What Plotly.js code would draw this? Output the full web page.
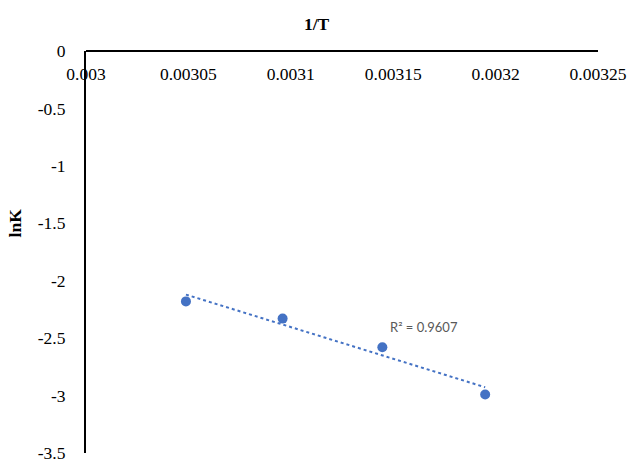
<!DOCTYPE html>
<html>
<head>
<meta charset="utf-8">
<script src="https://cdn.plot.ly/plotly-3.0.1.min.js"></script>
<style>html,body{margin:0;padding:0;background:#fff;}#chart{width:630px;height:461px;}</style>
</head>
<body>
<div id="chart"></div>
<script>
// Data
var invT = [0.0030488, 0.0030960, 0.0031447, 0.0031949];
var lnK = [-2.18, -2.33, -2.58, -2.99];
var xTicks = [0.003, 0.00305, 0.0031, 0.00315, 0.0032, 0.00325];
var xTickText = ['0.003', '0.00305', '0.0031', '0.00315', '0.0032', '0.00325'];
var yTicks = [0, -0.5, -1, -1.5, -2, -2.5, -3, -3.5];
var yTickText = ['0', '-0.5', '-1', '-1.5', '-2', '-2.5', '-3', '-3.5'];
var r2Label = 'R² = 0.9607';

// Linear trendline (least squares)
var n = invT.length, mx = 0, my = 0;
for (var i = 0; i < n; i++) { mx += invT[i]; my += lnK[i]; }
mx /= n; my /= n;
var sxy = 0, sxx = 0;
for (var i = 0; i < n; i++) { sxy += (invT[i]-mx)*(lnK[i]-my); sxx += (invT[i]-mx)*(invT[i]-mx); }
var slope = sxy/sxx, icpt = my - slope*mx;
var xMin = Math.min.apply(null, invT), xMax = Math.max.apply(null, invT);
var trendX = [xMin, xMax];
var trendY = trendX.map(function(x){ return slope*x + icpt; });

var color = '#4472C4';
var serif = 'Liberation Serif';

var data = [
  {x: trendX, y: trendY, mode: 'lines', line: {color: color, width: 2, dash: 'dot'}, hoverinfo: 'skip', showlegend: false},
  {x: invT, y: lnK, mode: 'markers', marker: {color: color, size: 10}, showlegend: false}
];

var layout = {
  width: 630, height: 461,
  margin: {l: 86, r: 32, t: 51, b: 8},
  paper_bgcolor: '#fff', plot_bgcolor: '#fff',
  showlegend: false,
  xaxis: {
    range: [0.003, 0.00325], side: 'bottom', anchor: 'free', position: 1,
    tickvals: xTicks, ticktext: xTickText,
    ticklabelstandoff: 7, ticklabeloverflow: 'allow',
    showgrid: false, zeroline: false,
    showline: true, linecolor: '#000', linewidth: 2,
    ticks: '', tickfont: {family: serif, size: 17.5, color: '#000'}
  },
  yaxis: {
    range: [-3.5, 0],
    tickvals: yTicks, ticktext: yTickText,
    showgrid: false, zeroline: false,
    showline: true, linecolor: '#000', linewidth: 2,
    ticks: '', ticklabelstandoff: 15, ticklabeloverflow: 'allow',
    tickfont: {family: serif, size: 17.5, color: '#000'}
  },
  annotations: [
    {text: '<b>1/T</b>', xref: 'paper', yref: 'paper', x: 0.451, y: 1, yshift: 27, showarrow: false,
     font: {family: serif, size: 17.5, color: '#000'}, xanchor: 'center', yanchor: 'middle'},
    {text: '<b>lnK</b>', xref: 'paper', yref: 'paper', x: 0, xshift: -71, y: 0.571, showarrow: false,
     textangle: -90, font: {family: serif, size: 17.5, color: '#000'}, xanchor: 'center', yanchor: 'middle'},
    {text: r2Label, xref: 'x', yref: 'y', x: 0.003165, y: -2.405, showarrow: false,
     font: {family: 'Lato', size: 13, color: '#595959'}, xanchor: 'center', yanchor: 'middle'}
  ]
};

Plotly.newPlot('chart', data, layout, {displayModeBar: false, staticPlot: true});
</script>
</body>
</html>
